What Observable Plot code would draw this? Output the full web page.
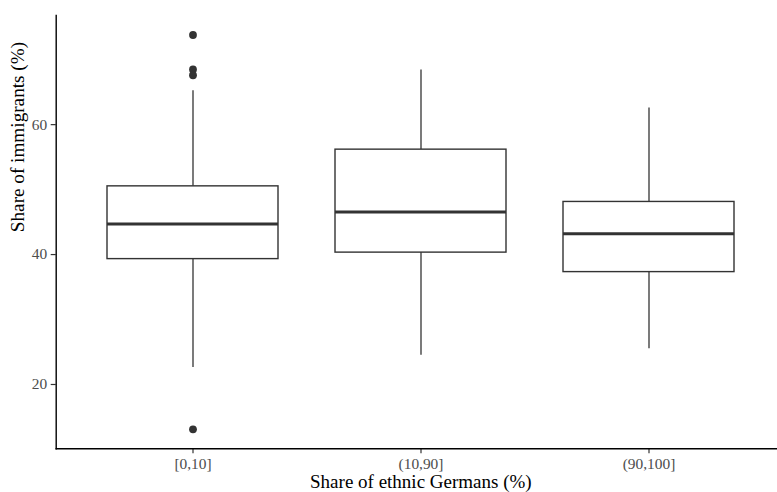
<!DOCTYPE html>
<html>
<head>
<meta charset="utf-8">
<script src="https://cdn.jsdelivr.net/npm/d3@7"></script>
<script src="https://cdn.jsdelivr.net/npm/@observablehq/plot@0.6"></script>
<style>
  html, body { margin: 0; padding: 0; background: #fff; overflow: hidden; }
  #chart svg { display: block; }
</style>
</head>
<body>
<div id="chart"></div>
<script>
// Data (Share of immigrants %, by share of ethnic Germans)
const categories = ["[0,10]", "(10,90]", "(90,100]"];
const whiskerLow = [22.6, 24.5, 25.5];
const q1 = [39.3, 40.3, 37.3];
const median = [44.7, 46.55, 43.2];
const q3 = [50.5, 56.15, 48.1];
const whiskerHigh = [65.2, 68.4, 62.55];
const outlierGroup = ["[0,10]", "[0,10]", "[0,10]", "[0,10]"];
const outlierValue = [73.8, 68.5, 67.6, 13.1];
const yTicks = [20, 40, 60];
const xTitle = "Share of ethnic Germans (%)";
const yTitle = "Share of immigrants (%)";

const boxes = categories.map((c, i) => ({
  cat: c, lo: whiskerLow[i], q1: q1[i], med: median[i], q3: q3[i], hi: whiskerHigh[i]
}));
const outliers = outlierGroup.map((c, i) => ({cat: c, v: outlierValue[i]}));

const ink = "#333333";
const font = "'Liberation Serif', 'DejaVu Serif', serif";

const chart = Plot.plot({
  width: 777,
  height: 492,
  marginLeft: 55.7,
  marginRight: 0,
  marginTop: 15,
  marginBottom: 43.7,
  style: {fontFamily: font, background: "#fff", overflow: "hidden"},
  x: {type: "band", domain: categories, range: [55.7, 785], paddingInner: 0.25, paddingOuter: 0.224, axis: null},
  y: {domain: [10.1, 76.8], axis: null},
  marks: [
    Plot.ruleX(boxes, {x: "cat", y1: "lo", y2: "q1", stroke: ink, strokeWidth: 1.3}),
    Plot.ruleX(boxes, {x: "cat", y1: "q3", y2: "hi", stroke: ink, strokeWidth: 1.3}),
    Plot.barY(boxes, {x: "cat", y1: "q1", y2: "q3", fill: "#fff", stroke: ink, strokeWidth: 1.4}),
    Plot.tickY(boxes, {x: "cat", y: "med", stroke: ink, strokeWidth: 2.9}),
    Plot.dot(outliers, {x: "cat", y: "v", r: 3.9, fill: ink, stroke: "none"}),
    Plot.axisY(yTicks, {
      anchor: "left", tickSize: 5, tickPadding: 4, color: "#4D4D4D", stroke: ink, strokeWidth: 1.2,
      fontSize: 15.4, fontFamily: font, label: null
    }),
    Plot.axisX(categories, {
      anchor: "bottom", tickSize: 5, tickPadding: 4, color: "#4D4D4D", stroke: ink, strokeWidth: 1.2,
      fontSize: 15.4, fontFamily: font, label: null
    }),
    Plot.frame({anchor: "left", stroke: "#000", strokeWidth: 1.4}),
    Plot.frame({anchor: "bottom", stroke: "#000", strokeWidth: 1.4}),
    Plot.text([xTitle], {frameAnchor: "bottom", dx: 4, dy: 33.5, text: d => d, fontSize: 19, fill: "#000", fontFamily: font, lineAnchor: "middle"}),
    Plot.text([yTitle], {frameAnchor: "left", dx: -38.7, text: d => d, rotate: -90, fontSize: 19.2, fill: "#000", fontFamily: font, lineAnchor: "middle"})
  ]
});
document.getElementById("chart").appendChild(chart);
</script>
</body>
</html>
